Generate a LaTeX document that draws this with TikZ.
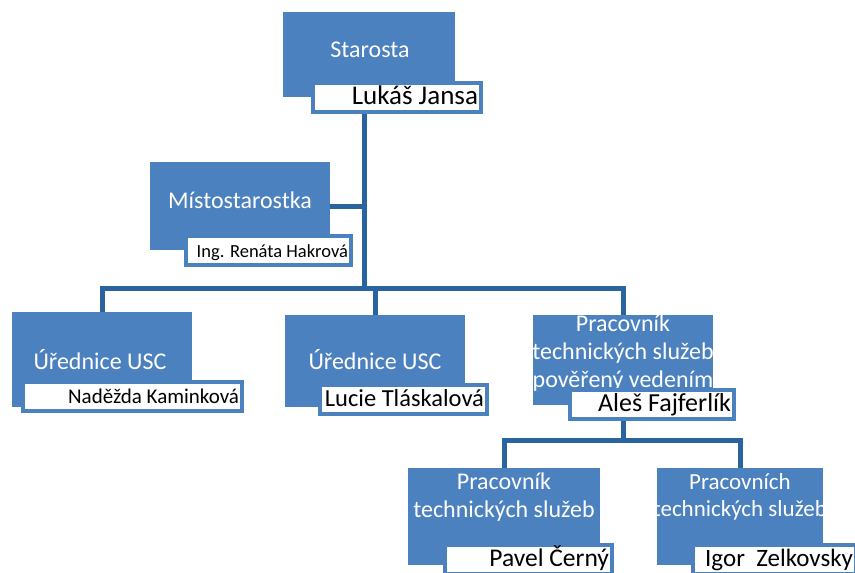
\documentclass[tikz,border=0pt]{standalone}
\usepackage{fontspec}
\setmainfont{Carlito}
\definecolor{boxblue}{RGB}{76,129,192}
\definecolor{linkblue}{RGB}{42,100,160}

\begin{document}
\begin{tikzpicture}[x=1pt,y=-1pt,
        post/.style={fill=boxblue,anchor=north west,inner sep=0pt},
        title/.style={text=white,align=center,font=\fontsize{24}{28}\selectfont},
        plate/.style={draw=boxblue,line width=4pt,fill=white,anchor=north west,
            inner xsep=3pt,inner ysep=0pt,minimum height=29pt,
            text height=18pt,text depth=5pt,align=flush right,text width=#1,
            font=\fontsize{25}{27}\selectfont},
        link/.style={draw=linkblue,line width=5pt}
    ]
        \useasboundingbox (0,0) rectangle (855,573);
        % positions
        \node[post,minimum width=172pt,minimum height=85pt] (sta) at (283,12) {};
        \node[post,minimum width=180pt,minimum height=88pt] (mis) at (150,162) {};
        \node[post,minimum width=180pt,minimum height=95pt] (ur1) at (12,312) {};
        \node[post,minimum width=180pt,minimum height=92pt] (ur2) at (285,315) {};
        \node[post,minimum width=180pt,minimum height=90pt] (pra) at (533,315) {};
        \node[post,minimum width=192pt,minimum height=97pt] (pc1) at (408,468) {};
        \node[post,minimum width=166pt,minimum height=97pt] (pc2) at (657,468) {};
        % titles
        \node[title] (sta-t) at (370,50) {Starosta};
        \node[title] (mis-t) at (240,200) {Místostarostka};
        \node[title] (ur1-t) at (100,360) {Úřednice USC};
        \node[title] (ur2-t) at (375,360) {Úřednice USC};
        \node[title] (pra-t) at (623,353) {Pracovník\\technických služeb\\pověřený vedením};
        \node[title] (pc1-t) at (504,497) {Pracovník\\technických služeb};
        \node[title,font=\fontsize{23}{27}\selectfont] (pc2-t) at (740,497) {Pracovních\\technických služeb};
        % names
        \node[plate=162pt,font=\fontsize{27}{29}\selectfont] (sta-n) at (311,81) {Lukáš Jansa};
        \node[plate=159pt,font=\fontsize{18.5}{20}\selectfont] (mis-n) at (184,234) {Ing. Renáta Hakrová};
        \node[plate=213pt,font=\fontsize{21}{23}\selectfont] (ur1-n) at (21,380) {Naděžda Kaminková};
        \node[plate=161pt,font=\fontsize{24.5}{26}\selectfont] (ur2-n) at (318,383) {Lucie Tláskalová};
        \node[plate=158pt,font=\fontsize{26}{28}\selectfont] (pra-n) at (568,388) {Aleš Fajferlík};
        \node[plate=161pt,font=\fontsize{25.5}{27}\selectfont] (pc1-n) at (443,543) {Pavel Černý};
        \node[plate=157pt] (pc2-n) at (691,543) {Igor\ \ Zelkovsky};
        % connectors
        \coordinate (bus) at (364,288);
        \coordinate (sub) at (623,440);
        \draw[link] (sta-n.south -| bus) -- (bus);
        \draw[link] (mis.east) -- (mis.east -| bus);
        \draw[link] (ur1.north) |- (bus) -| (pra.north);
        \draw[link] (ur2.north) -- (ur2.north |- bus);
        \draw[link] (pra-n.south -| sub) -- (sub);
        \draw[link] (pc1.north) |- (sub) -| (pc2.north);
    \end{tikzpicture}
\end{document}
